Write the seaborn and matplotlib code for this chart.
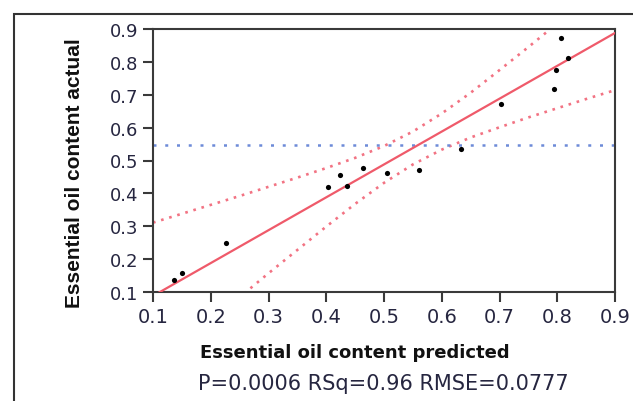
import matplotlib.pyplot as plt
import numpy as np
import seaborn as sns
from matplotlib.patches import Rectangle

# Actual by predicted plot
predicted = [0.137, 0.150, 0.226, 0.403, 0.423, 0.436, 0.463, 0.505,
             0.561, 0.634, 0.703, 0.794, 0.798, 0.807, 0.819]
actual = [0.137, 0.157, 0.248, 0.418, 0.455, 0.423, 0.477, 0.461,
          0.470, 0.534, 0.672, 0.716, 0.774, 0.874, 0.811]

# fit line and mean of response
fit_intercept = -0.012
fit_slope = 1.0
mean_actual = 0.548

# confidence curves, read at steps of 0.05 along the x axis
band_x = [0.10, 0.15, 0.20, 0.25, 0.30, 0.35, 0.40, 0.45, 0.50,
          0.55, 0.60, 0.65, 0.70, 0.75, 0.80, 0.85, 0.90]
band_upper = [0.311, 0.338, 0.365, 0.392, 0.420, 0.448, 0.477, 0.508, 0.544,
              0.588, 0.643, 0.706, 0.775, 0.845, 0.917, 0.990, 1.062]
band_lower = [-0.135, -0.062, 0.011, 0.084, 0.157, 0.228, 0.299, 0.368, 0.432,
              0.488, 0.533, 0.570, 0.601, 0.631, 0.659, 0.687, 0.714]

ticks = [0.1, 0.2, 0.3, 0.4, 0.5, 0.6, 0.7, 0.8, 0.9]
tick_labels = ["0.1", "0.2", "0.3", "0.4", "0.5", "0.6", "0.7", "0.8", "0.9"]

x_title = "Essential oil content predicted"
y_title = "Essential oil content actual"
stats_text = "P=0.0006 RSq=0.96 RMSE=0.0777"

sns.set_style("white")
plt.rcParams["font.family"] = ["DejaVu Sans"]

W, H = 633, 402
fig = plt.figure(figsize=(W / 100, H / 100), dpi=100)
ax = fig.add_axes([153 / W, 1 - 293 / H, (615 - 153) / W, (293 - 30) / H])

# outer frame (cut off at right and bottom like the screenshot)
fig.add_artist(Rectangle((14 / W, -0.2), 1.2, 1.2 - 15 / H,
                         transform=fig.transFigure, fill=False,
                         lw=1.5, ec="#333333", clip_on=False))

red = "#ef5a6a"
red_dot = "#f27383"
blue_dot = "#6d8bd8"

fit_y = [fit_intercept + fit_slope * x for x in band_x]
sns.lineplot(x=band_x, y=fit_y, color=red, lw=1.6, ax=ax, zorder=3)
sns.lineplot(x=band_x, y=band_upper, color=red_dot, lw=1.9,
             linestyle=(0, (1, 2.2)), ax=ax, zorder=2)
sns.lineplot(x=band_x, y=band_lower, color=red_dot, lw=1.9,
             linestyle=(0, (1, 2.2)), ax=ax, zorder=2)
ax.axhline(mean_actual, color=blue_dot, lw=1.8, linestyle=(0, (1.2, 3.5)), zorder=2)

sns.scatterplot(x=predicted, y=actual, s=14, color="black", linewidth=0,
                ax=ax, zorder=5)

ax.set_xlim(0.1, 0.9)
ax.set_ylim(0.1, 0.9)
ax.set_xticks(ticks)
ax.set_xticklabels(tick_labels, fontsize=14, color="#262640")
ax.set_yticks(ticks)
ax.set_yticklabels(tick_labels, fontsize=13, color="#262640")
ax.tick_params(axis="both", direction="out", length=7, width=1.5,
               color="#3a3a3a", bottom=True, left=True)
ax.tick_params(axis="x", pad=3.5)
ax.tick_params(axis="y", pad=3.5)
for sp in ax.spines.values():
    sp.set_color("#3a3a3a")
    sp.set_linewidth(1.5)
ax.set_xlabel("")
ax.set_ylabel("")

fig.text(355 / W, 1 - 358 / H, x_title, ha="center", va="baseline",
         fontsize=13, fontweight="bold", color="#111111")
fig.text(74.5 / W, 1 - 173 / H, y_title, ha="center", va="center",
         rotation=90, fontsize=15, fontweight="bold", color="#111111",
         family=["Liberation Sans", "DejaVu Sans"])
fig.text(383 / W, 1 - 390 / H, stats_text, ha="center", va="baseline",
         fontsize=15, color="#262640")

fig.savefig("out.png", dpi=100)
